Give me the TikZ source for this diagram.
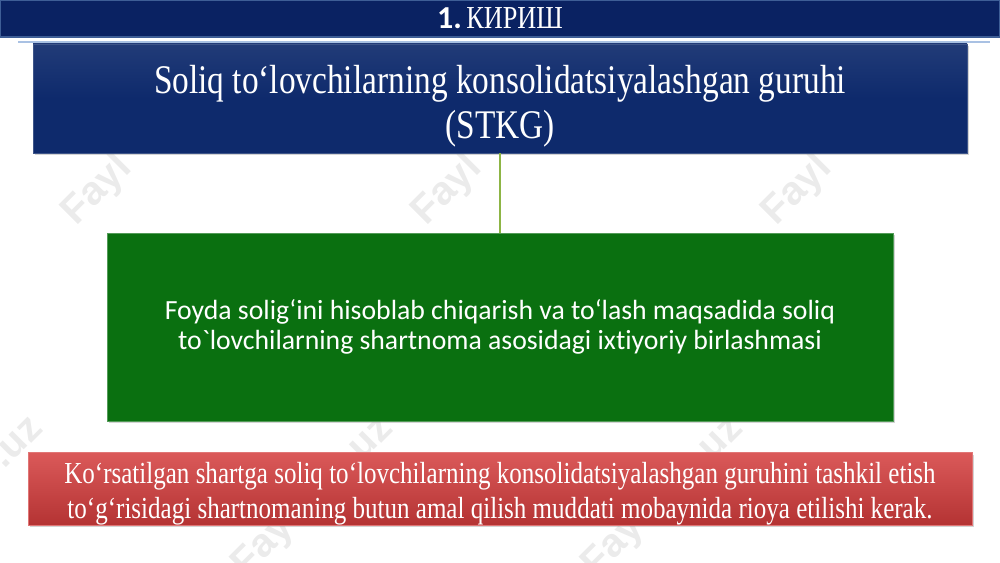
\documentclass[tikz,border=0pt]{standalone}
\usepackage{fontspec}
\setmainfont{Liberation Serif}
\newfontfamily\condserif{Liberation Serif}[FakeStretch=0.82]
\newfontfamily\calib{Carlito}[Ligatures={TeXOff,NoCommon}]
\newfontfamily\wmfont{Liberation Sans}
\usetikzlibrary{shadows}
\definecolor{barblue}{HTML}{0A2262}
\definecolor{barline}{HTML}{3E5E96}
\definecolor{boxblue}{HTML}{0E2A6C}
\definecolor{boxgreen}{HTML}{0A7010}
\definecolor{boxred}{HTML}{D43C3C}
\definecolor{linegreen}{HTML}{8DB545}
\definecolor{sepblue}{HTML}{A9C1E3}
\tikzset{
  wm/.style={font=\wmfont\bfseries\fontsize{30}{30}\selectfont, text=black!8, rotate=45},
  bar/.style={rectangle, fill=barblue, draw=barline, line width=1.2pt, minimum width=750pt, minimum height=27.75pt, inner sep=0pt},
  bluebox/.style={rectangle, top color=boxblue!92!white, bottom color=boxblue, middle color=boxblue, draw=boxblue!80!white, line width=0.6pt,
    minimum width=700.5pt, minimum height=81.75pt, inner sep=0pt, text=white, align=center,
    drop shadow={opacity=0.35, shadow xshift=1.5pt, shadow yshift=-1.5pt},
    font=\condserif\fontsize{30.5}{33.75}\selectfont},
  greenbox/.style={rectangle, fill=boxgreen, draw=boxgreen!70!white, line width=0.6pt,
    minimum width=589.5pt, minimum height=141pt, inner sep=0pt, text=white, align=center,
    drop shadow={opacity=0.35, shadow xshift=1.5pt, shadow yshift=-1.5pt},
    font=\calib\fontsize{20.8}{22}\selectfont},
  redbox/.style={rectangle, top color=boxred!85!white, bottom color=boxred!85!black, draw=boxred!70!white, line width=0.6pt,
    minimum width=708pt, minimum height=54pt, inner sep=0pt, text=white, align=center,
    drop shadow={opacity=0.35, shadow xshift=1.5pt, shadow yshift=-1.5pt},
    font=\condserif\fontsize{22.9}{26.25}\selectfont},
  conn/.style={draw=linegreen, line width=2pt},
}
\begin{document}
\begin{tikzpicture}[x=0.75pt,y=-0.75pt]
\useasboundingbox (0,0) rectangle (1000,563);
% watermarks (only the parts that show)
\foreach \cx/\cy [count=\i] in {143/145, 493/145, 843/145}
  \node[wm] (wmt\i) at (\cx,\cy) {Fayl\phantom{hub.uz}};
\node[wm] (wmb1) at (-37,497) {\phantom{Faylhub}.uz};
\node[wm] (wmb2) at (313,497) {Fay\phantom{lhub}.uz};
\node[wm] (wmb3) at (663,497) {Fay\phantom{lhub}.uz};
% title bar
\node[bar, text=white] (bar) at (500,18.5) {{\calib\bfseries\fontsize{24}{24}\selectfont 1.} {\condserif\fontsize{24}{24}\selectfont КИРИШ}};
\coordinate (sepL) at (18,42);
\coordinate (sepR) at (990,42);
\draw[sepblue, line width=1.5pt] (sepL) -- (sepR);
% boxes
\node[bluebox] (blue) at (500,98.5) {\rule{0pt}{33pt}Soliq to‘lovchilarning konsolidatsiyalashgan guruhi\\(STKG)};
\node[greenbox] (green) at (500,327) {Foyda solig‘ini hisoblab chiqarish va to‘lash maqsadida soliq\\to`lovchilarning shartnoma asosidagi ixtiyoriy birlashmasi};
\node[redbox] (red) at (500,489) {\rule{0pt}{23.5pt}Ko‘rsatilgan shartga soliq to‘lovchilarning konsolidatsiyalashgan guruhini tashkil etish\\to‘g‘risidagi shartnomaning butun amal qilish muddati mobaynida rioya etilishi kerak.};
\draw[conn] (blue.south) -- (green.north);
\end{tikzpicture}
\end{document}
